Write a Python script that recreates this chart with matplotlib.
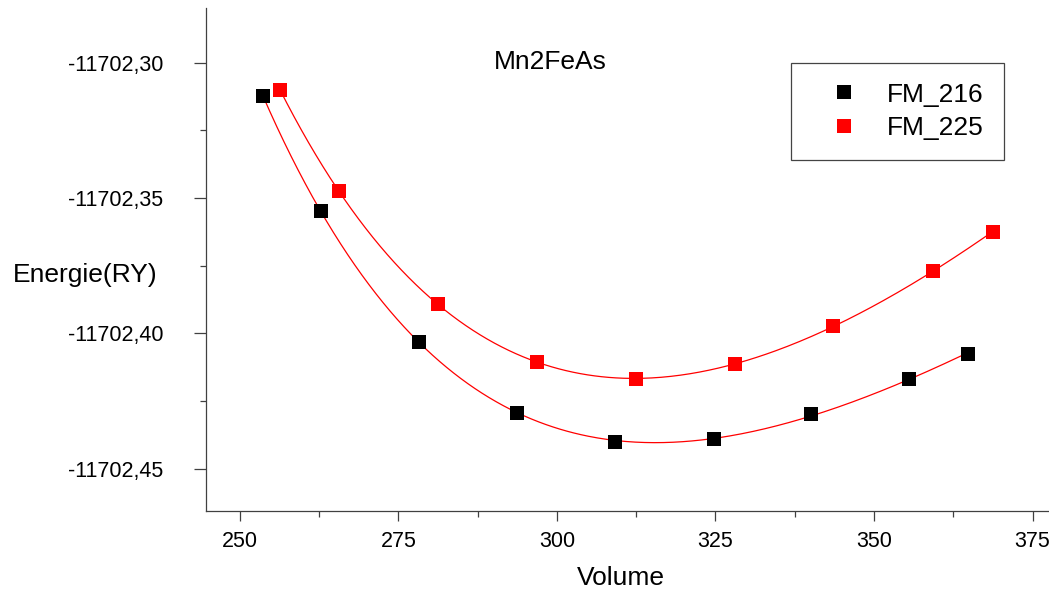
import numpy as np
import matplotlib
matplotlib.use("Agg")
import matplotlib.pyplot as plt
from matplotlib.ticker import FuncFormatter

plt.rcParams['font.family'] = ['Liberation Sans', 'DejaVu Sans']

# volume / energy
vol_216 = [253.6, 262.8, 278.3, 293.7, 309.2, 324.7, 340.1, 355.5, 364.8]
e_216 = [-11702.3124, -11702.3548, -11702.4031, -11702.4295, -11702.4400,
         -11702.4389, -11702.4298, -11702.4168, -11702.4075]
vol_225 = [256.3, 265.6, 281.2, 296.8, 312.5, 328.1, 343.6, 359.3, 368.7]
e_225 = [-11702.3100, -11702.3474, -11702.3891, -11702.4106, -11702.4168,
         -11702.4112, -11702.3972, -11702.3770, -11702.3625]
labels = ["FM_216", "FM_225"]
colors = ["black", "red"]
title = "Mn2FeAs"
xticks = [250, 275, 300, 325, 350, 375]
yticks = [-11702.45, -11702.40, -11702.35, -11702.30]


def bm_curve(v, e):
    # Birch-Murnaghan style fit: cubic in V^(-2/3)
    v = np.asarray(v)
    e = np.asarray(e)
    e0 = e.mean()
    p = np.polynomial.Polynomial.fit(v ** (-2.0 / 3.0), e - e0, 3)
    vv = np.linspace(v.min(), v.max(), 300)
    return vv, p(vv ** (-2.0 / 3.0)) + e0


fig = plt.figure(figsize=(10.49, 5.95), dpi=100)
ax = fig.add_axes([0.1967, 0.1417, 0.8033, 0.8443])

for v, e, lab, c in [(vol_216, e_216, labels[0], colors[0]),
                     (vol_225, e_225, labels[1], colors[1])]:
    vv, ee = bm_curve(v, e)
    ax.plot(vv, ee, color='red', lw=0.9, zorder=2)
    ax.plot(v, e, ls='none', marker='s', ms=9.4, mfc=c, mec=c, mew=0,
            label=lab, zorder=3)

ax.set_xlim(244.7, 377.6)
ax.set_ylim(-11702.46546, -11702.27993)

ax.set_xticks(xticks)
ax.set_xticks([262.5, 287.5, 312.5, 337.5, 362.5], minor=True)
ax.set_yticks(yticks)
ax.set_yticks([-11702.425, -11702.375, -11702.325], minor=True)
ax.yaxis.set_major_formatter(FuncFormatter(lambda v, p: f"{v:.2f}".replace('.', ',')))

for s in ['top', 'right']:
    ax.spines[s].set_visible(False)
for s in ['left', 'bottom']:
    ax.spines[s].set_color('#404040')
    ax.spines[s].set_linewidth(0.9)

ax.tick_params(axis='both', which='both', direction='out', color='#404040', width=0.9)
ax.tick_params(axis='y', which='major', length=9, pad=22, labelsize=15.5)
ax.tick_params(axis='y', which='minor', length=4.5)
ax.tick_params(axis='x', which='major', length=7.5, pad=7, labelsize=15.5)
ax.tick_params(axis='x', which='minor', length=4.5)

ax.set_xlabel("Volume", fontsize=19)
ax.xaxis.set_label_coords(0.492, -0.134)
ax.xaxis.label.set_va('center')
ax.set_ylabel("Energie(RY)", fontsize=19, rotation=0)
ax.yaxis.set_label_coords(-0.144, 0.469)
ax.yaxis.label.set_va('center')
ax.yaxis.label.set_ha('center')

ax.text(0.408, 0.893, title, transform=ax.transAxes, fontsize=19,
        ha='center', va='center')

leg = ax.legend(loc='upper left', bbox_to_anchor=(0.6935, 0.8917),
                borderaxespad=0, fontsize=19, fancybox=False, framealpha=1,
                edgecolor='#444444', borderpad=0.75, labelspacing=0.36,
                handlelength=2.5, handletextpad=0.4)
leg.get_frame().set_linewidth(0.9)

fig.savefig("out.png", dpi=100)
